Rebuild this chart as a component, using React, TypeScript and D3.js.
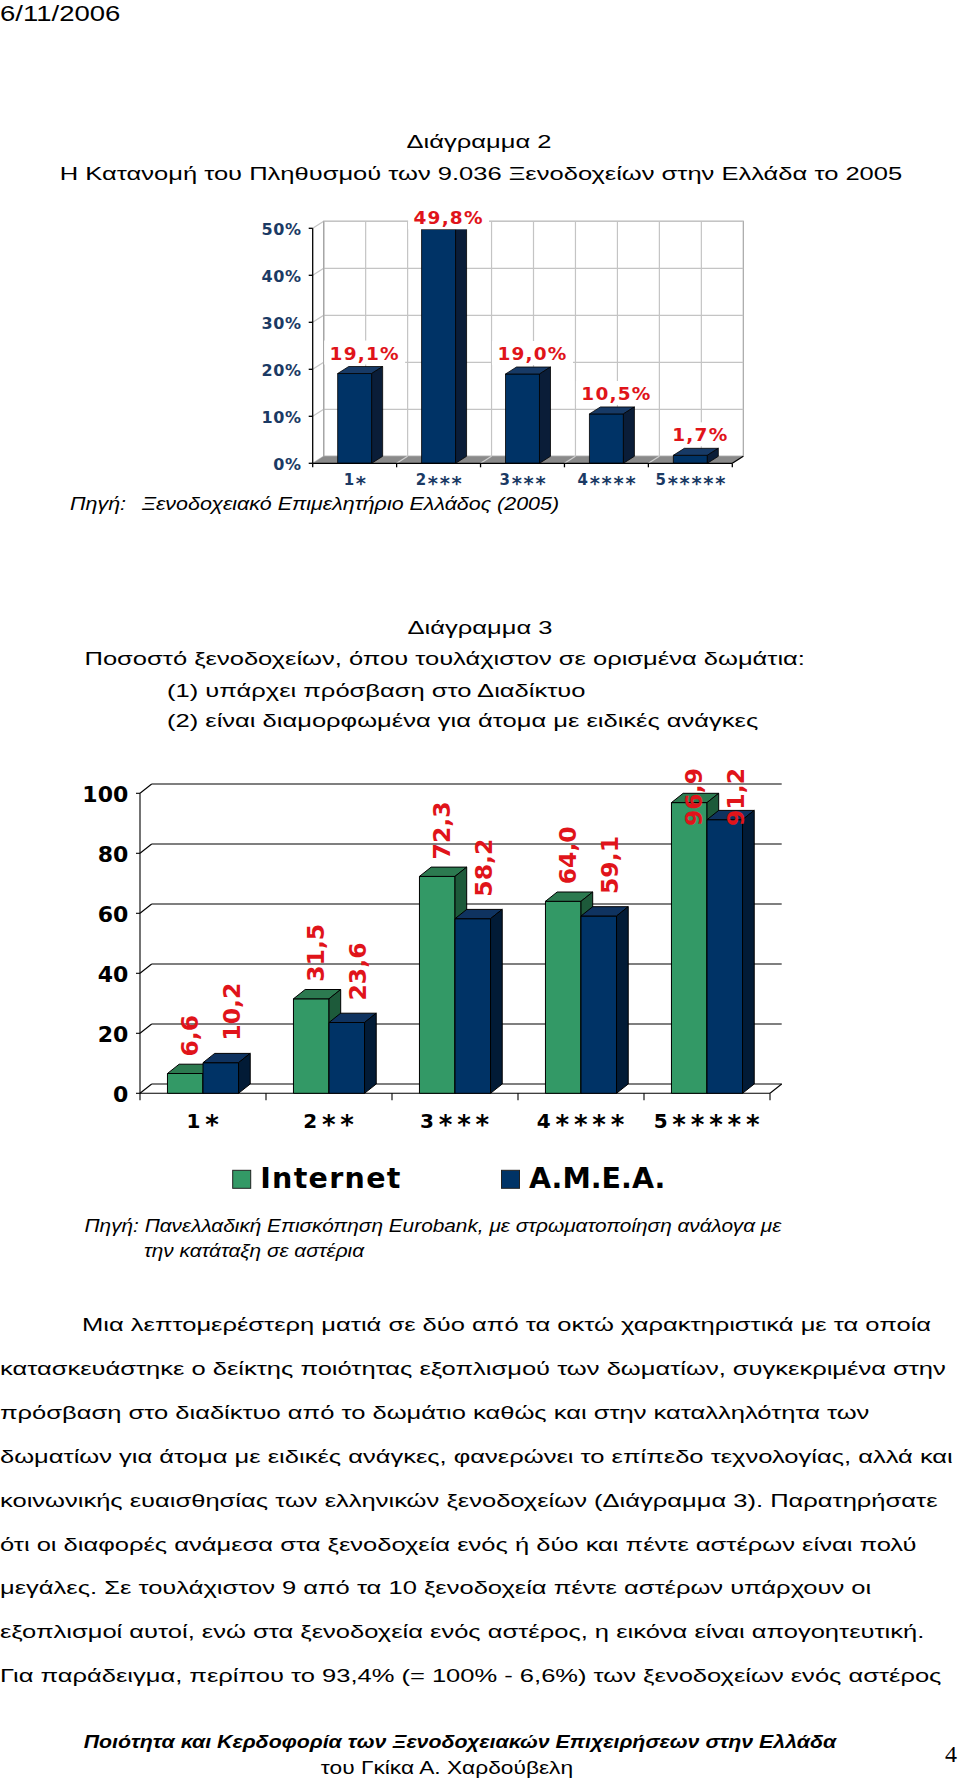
import React from 'react';
import * as d3 from 'd3';

// Διάγραμμα 2 – κατανομή ξενοδοχείων ανά κατηγορία (%)
const stars1 = ['1*', '2***', '3***', '4****', '5*****'];
const share = [19.1, 49.8, 19.0, 10.5, 1.7];
const pctTicks = [0, 10, 20, 30, 40, 50];

// Διάγραμμα 3 – Internet / Α.Μ.Ε.Α. ανά κατηγορία (%)
const stars2 = ['1*', '2**', '3***', '4****', '5*****'];
const seriesNames = ['Internet', 'A.M.E.A.'];
const internet = [6.6, 31.5, 72.3, 64.0, 96.9];
const amea = [10.2, 23.6, 58.2, 59.1, 91.2];
const valTicks = [0, 20, 40, 60, 80, 100];

const bodyLines = [
  'Μια λεπτομερέστερη ματιά σε δύο από τα οκτώ χαρακτηριστικά με τα οποία',
  'κατασκευάστηκε ο δείκτης ποιότητας εξοπλισμού των δωματίων, συγκεκριμένα στην',
  'πρόσβαση στο διαδίκτυο από το δωμάτιο καθώς και στην καταλληλότητα των',
  'δωματίων για άτομα με ειδικές ανάγκες, φανερώνει το επίπεδο τεχνολογίας, αλλά και',
  'κοινωνικής ευαισθησίας των ελληνικών ξενοδοχείων (Διάγραμμα 3).  Παρατηρήσατε',
  'ότι οι διαφορές ανάμεσα στα ξενοδοχεία ενός ή δύο και πέντε αστέρων είναι πολύ',
  'μεγάλες.  Σε τουλάχιστον 9 από τα 10 ξενοδοχεία πέντε αστέρων υπάρχουν οι',
  'εξοπλισμοί αυτοί, ενώ στα ξενοδοχεία ενός αστέρος, η εικόνα είναι απογοητευτική.',
  'Για παράδειγμα, περίπου το 93,4% (= 100% - 6,6%) των ξενοδοχείων ενός αστέρος',
];

const gr = d3.formatLocale({ decimal: ',', thousands: '.', grouping: [3], currency: ['', '€'] });
const f1 = gr.format('.1f');

const SANS = '"Liberation Sans", Arial, sans-serif';
const VERD = '"DejaVu Sans", Verdana, sans-serif';
const NAVY = '#1b3a64';
const RED = '#e0141a';
const STRETCH = 1.38; // the scanned page is wider than it is tall

const DocText = ({ x, y, s = STRETCH, anchor = 'start', size = 18.5, weight = 'normal', italic = false, family = SANS, children }: any) => (
  <text
    transform={`translate(${x},${y}) scale(${s},1)`}
    textAnchor={anchor}
    fontFamily={family}
    fontSize={size}
    fontWeight={weight}
    fontStyle={italic ? 'italic' : 'normal'}
    fill="#000"
  >
    {children}
  </text>
);

const box3d = (key: string, xl: number, w: number, yt: number, yb: number, dx: number, dy: number, c: string[], sw = 0.8) => (
  <g key={key} stroke="#000" strokeWidth={sw} strokeLinejoin="round">
    <rect x={xl} y={yt} width={w} height={yb - yt} fill={c[0]} />
    <polygon points={`${xl},${yt} ${xl + w},${yt} ${xl + w + dx},${yt + dy} ${xl + dx},${yt + dy}`} fill={c[1]} />
    <polygon points={`${xl + w},${yt} ${xl + w + dx},${yt + dy} ${xl + w + dx},${yb + dy} ${xl + w},${yb}`} fill={c[2]} />
  </g>
);

const labelWidth = (t: string, size: number, ls: number) => {
  let w = 0;
  for (const ch of t) w += ch === ',' ? 0.38 : ch === '%' ? 1.0 : 0.696;
  return w * size + ls * (t.length - 1);
};

// category label: digit, then big asterisks pushed down a little
const StarLabel = ({ x, y, label, size, fill, ls, shift }: any) => {
  const digit = label.slice(0, 1);
  const stars = label.slice(1);
  return (
    <text x={x} y={y} textAnchor="middle" fontFamily={VERD} fontWeight="bold" fontSize={size} letterSpacing={ls} fill={fill}>
      {digit}
      <tspan fontSize={size * 1.3} dy={shift}>{stars}</tspan>
    </text>
  );
};

function Chart1() {
  const x0 = 312.7, x1 = 732.3;
  const x = d3.scaleBand().domain(stars1).range([x0, x1]).paddingInner(0.595).paddingOuter(0.2975);
  const y = d3.scaleLinear().domain([0, 50]).range([463.3, 228.3]);
  const dx = 11, dy = -7;
  const yb = y(0), yt = y(50);
  const step = x.step();
  const halves = d3.range(1, 10);
  const barC = ['#003366', '#173a66', '#0a1d38'];

  return (
    <g>
      {/* back wall */}
      <rect x={x0 + dx} y={yt + dy} width={x1 - x0} height={yb - yt} fill="#fff" stroke="#a6a6a6" strokeWidth={1.2} />
      {pctTicks.map(t => (
        <g key={'g' + t} stroke="#c4c4c4" strokeWidth={1.2} fill="none">
          <line x1={x0 + dx} x2={x1 + dx} y1={y(t) + dy} y2={y(t) + dy} />
          <line x1={x0} x2={x0 + dx} y1={y(t)} y2={y(t) + dy} />
        </g>
      ))}
      {halves.map(k => (
        <line key={'v' + k} x1={x0 + dx + (k * step) / 2} x2={x0 + dx + (k * step) / 2} y1={yt + dy} y2={yb + dy} stroke="#c4c4c4" strokeWidth={1.2} />
      ))}
      <line x1={x0 + dx} x2={x0 + dx} y1={yt + dy} y2={yb + dy} stroke="#a6a6a6" strokeWidth={1.2} />
      {/* floor */}
      <polygon points={`${x0},${yb} ${x1},${yb} ${x1 + dx},${yb + dy} ${x0 + dx},${yb + dy}`} fill="#8a8a8a" />
      {d3.range(1, 5).map(k => (
        <line key={'f' + k} x1={x0 + k * step} y1={yb} x2={x0 + k * step + dx} y2={yb + dy} stroke="#d0d0d0" strokeWidth={1.2} />
      ))}
      {/* bars */}
      {stars1.map((c, i) => box3d('b' + c, x(c)!, x.bandwidth(), y(share[i]), yb, dx, dy, barC))}
      {/* axes */}
      <g stroke="#000" strokeWidth={1.3} fill="none">
        <line x1={x0} x2={x0} y1={yt} y2={yb} />
        <line x1={x0} x2={x1} y1={yb} y2={yb} />
        <line x1={x1} y1={yb} x2={x1 + dx} y2={yb + dy} />
        {pctTicks.map(t => <line key={'yt' + t} x1={x0 - 4} x2={x0} y1={y(t)} y2={y(t)} />)}
        {d3.range(0, 6).map(k => <line key={'xt' + k} x1={x0 + k * step} x2={x0 + k * step} y1={yb} y2={yb + 4} />)}
      </g>
      {pctTicks.map(t => (
        <text key={'yl' + t} x={301.7} y={y(t) + 6.7} textAnchor="end" fontFamily={VERD} fontWeight="bold" fontSize={16} letterSpacing={0.6} fill={NAVY}>
          {t}%
        </text>
      ))}
      {stars1.map(c => (
        <StarLabel key={'xl' + c} x={x(c)! + x.bandwidth() / 2 + 1} y={485} label={c} size={15} ls={1.7} shift={4.5} fill={NAVY} />
      ))}
      {/* value labels */}
      {stars1.map((c, i) => {
        const t = f1(share[i]) + '%';
        const cx = x(c)! + x.bandwidth() / 2 + 10;
        const base = Math.max(y(share[i]) - 14, yt - 4);
        const w = labelWidth(t, 18.5, 1.2);
        return (
          <g key={'vl' + c}>
            <rect x={cx - w / 2 - 6} y={base - 19} width={w + 12} height={24} fill="#fff" />
            <text x={cx} y={base} textAnchor="middle" fontFamily={VERD} fontWeight="bold" fontSize={18.5} letterSpacing={1.2} fill={RED}>
              {t}
            </text>
          </g>
        );
      })}
    </g>
  );
}

function Chart2() {
  const x0 = 140, x1 = 770;
  const x = d3.scaleBand().domain(stars2).range([x0, x1]).paddingInner(0.436).paddingOuter(0.218);
  const xs = d3.scaleBand().domain(seriesNames).range([0, x.bandwidth()]);
  const y = d3.scaleLinear().domain([0, 100]).range([1093.3, 793.3]);
  const dx = 11.7, dy = -9.3;
  const yb = y(0), yt = y(100);
  const step = x.step();
  const cols = [
    ['#339966', '#2c7a50', '#1d5a3a'],
    ['#003366', '#0f3360', '#021b36'],
  ];
  const vals = [internet, amea];
  const labOff = [{ dx: 4, up: 17 }, { dx: 11, up: 22 }];
  const labSize = 23.5;
  const ceiling = 768;
  const legendX = [232.7, 501.5];
  const legendLs = [1.3, 0];

  return (
    <g>
      {valTicks.map(t => (
        <g key={'g' + t} stroke="#000" strokeWidth={1.1}>
          <line x1={x0 + dx} x2={x1 + dx} y1={y(t) + dy} y2={y(t) + dy} />
          <line x1={x0} x2={x0 + dx} y1={y(t)} y2={y(t) + dy} />
        </g>
      ))}
      <g stroke="#000" strokeWidth={1.1} fill="none">
        <line x1={x0} x2={x1} y1={yb} y2={yb} />
        <line x1={x1} y1={yb} x2={x1 + dx} y2={yb + dy} />
        <line x1={x0} x2={x0} y1={yt} y2={yb} />
        {valTicks.map(t => <line key={'yt' + t} x1={x0 - 4} x2={x0} y1={y(t)} y2={y(t)} />)}
        {d3.range(0, 6).map(k => <line key={'xt' + k} x1={x0 + k * step} x2={x0 + k * step} y1={yb} y2={yb + 7} />)}
      </g>
      {stars2.map((c, i) => (
        <g key={'p' + c}>
          {seriesNames.map((s, j) =>
            box3d(c + s, x(c)! + xs(s)!, xs.bandwidth(), y(vals[j][i]), yb, dx, dy, cols[j], 1)
          )}
        </g>
      ))}
      {valTicks.map(t => (
        <text key={'yl' + t} x={128.3} y={y(t) + 8.5} textAnchor="end" fontFamily={VERD} fontWeight="bold" fontSize={22} fill="#000">
          {t}
        </text>
      ))}
      {stars2.map(c => (
        <StarLabel key={'xl' + c} x={x(c)! + x.bandwidth() / 2 + 2} y={1128.3} label={c} size={20} ls={4.8} shift={5.5} fill="#000" />
      ))}
      {stars2.map((c, i) =>
        seriesNames.map((s, j) => {
          const v = vals[j][i];
          const t = f1(v);
          const len = labelWidth(t, labSize, 0);
          const bx = x(c)! + xs(s)! + xs.bandwidth() / 2 + labOff[j].dx + 8.6;
          const start = Math.max(y(v) - labOff[j].up, ceiling + len);
          return (
            <text key={'vl' + c + s} transform={`translate(${bx},${start}) rotate(-90)`} fontFamily={VERD} fontWeight="bold" fontSize={labSize} fill={RED}>
              {t}
            </text>
          );
        })
      )}
      {/* legend */}
      {seriesNames.map((s, j) => (
        <g key={'lg' + s}>
          <rect x={legendX[j]} y={1170.3} width={18} height={18} fill={cols[j][0]} stroke="#222" strokeWidth={1} />
          <text x={legendX[j] + 27.5} y={1188.3} fontFamily={VERD} fontWeight="bold" fontSize={28.5} letterSpacing={legendLs[j]} fill="#000">
            {s}
          </text>
        </g>
      ))}
    </g>
  );
}

export default function App() {
  return (
    <svg width={960} height={1782} style={{ position: 'absolute', left: 0, top: 0, background: '#fff' }}>
      <rect width={960} height={1782} fill="#fff" />
      <DocText x={0} y={21} size={21.5} s={1.28}>6/11/2006</DocText>

      <DocText x={479} y={148} anchor="middle">Διάγραμμα 2</DocText>
      <DocText x={481} y={180} anchor="middle">Η Κατανομή του Πληθυσμού των 9.036 Ξενοδοχείων στην Ελλάδα το 2005</DocText>
      <Chart1 />
      <DocText x={70} y={510} italic s={1.16}>Πηγή:</DocText>
      <DocText x={142} y={510} italic s={1.16}>Ξενοδοχειακό Επιμελητήριο Ελλάδος (2005)</DocText>

      <DocText x={480} y={634} anchor="middle">Διάγραμμα 3</DocText>
      <DocText x={84.5} y={665}>Ποσοστό ξενοδοχείων, όπου τουλάχιστον σε ορισμένα δωμάτια:</DocText>
      <DocText x={167} y={697}>(1) υπάρχει πρόσβαση στο Διαδίκτυο</DocText>
      <DocText x={167} y={727}>(2) είναι διαμορφωμένα για άτομα με ειδικές ανάγκες</DocText>
      <Chart2 />
      <DocText x={84.5} y={1232} italic s={1.19} size={17.5}>Πηγή: Πανελλαδική Επισκόπηση Eurobank, με στρωματοποίηση ανάλογα με</DocText>
      <DocText x={144} y={1257} italic s={1.19} size={17.5}>την κατάταξη σε αστέρια</DocText>

      {bodyLines.map((l, i) => (
        <DocText key={'l' + i} x={i === 0 ? 82 : 0} y={1331 + i * 43.9}>{l}</DocText>
      ))}

      <DocText x={460} y={1748} anchor="middle" size={17.5} weight="bold" italic s={1.22}>
        Ποιότητα και Κερδοφορία των Ξενοδοχειακών Επιχειρήσεων στην Ελλάδα
      </DocText>
      <DocText x={447} y={1774} anchor="middle" size={17.5} s={1.3}>του Γκίκα Α. Χαρδούβελη</DocText>
      <text x={945} y={1762} fontFamily='"Liberation Serif", serif' fontSize={24} fill="#000">4</text>
    </svg>
  );
}
